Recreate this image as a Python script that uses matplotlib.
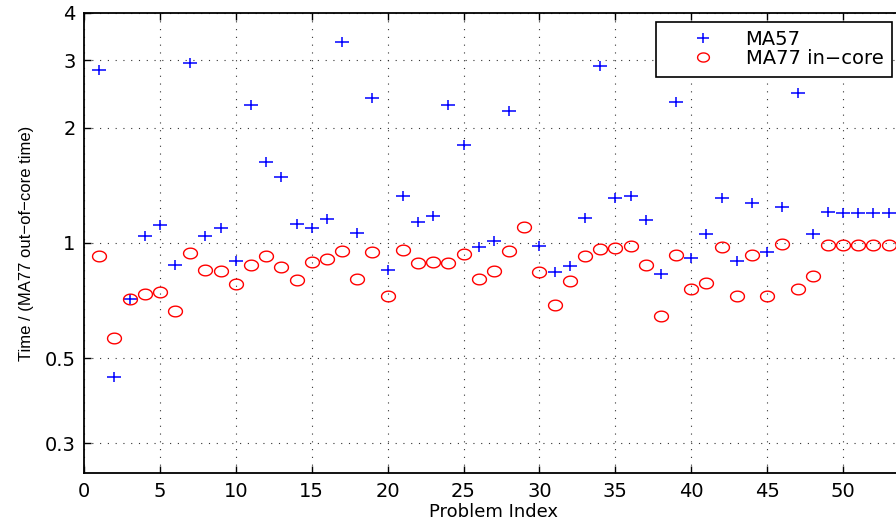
import matplotlib
matplotlib.use("Agg")
import matplotlib.pyplot as plt
from matplotlib.path import Path
import numpy as np

# valores (indice de problema 1..53)
problema = np.arange(1, 54)

ma57 = [2.84, 0.447, 0.715, 1.045, 1.117, 0.877, 2.95, 1.045, 1.096, 0.898,
        2.29, 1.63, 1.49, 1.12, 1.096, 1.158, 3.36, 1.064, 2.40, 0.851,
        1.33, 1.137, 1.179, 2.29, 1.80, 0.978, 1.014, 2.22, np.nan, 0.983,
        0.841, 0.872, 1.165, 2.90, 1.31, 1.33, 1.151, 0.831, 2.34, 0.915,
        1.057, 1.31, 0.898, 1.275, 0.949, 1.245, 2.47, 1.057, 1.208, 1.20,
        1.20, 1.20, 1.20]

ma77_incore = [0.922, 0.565, 0.715, 0.735, 0.746, 0.665, 0.941, 0.851, 0.843, 0.781,
               0.876, 0.926, 0.864, 0.800, 0.890, 0.908, 0.954, 0.806, 0.945, 0.725,
               0.956, 0.888, 0.890, 0.886, 0.936, 0.805, 0.843, 0.954, 1.10, 0.838,
               0.688, 0.795, 0.922, 0.966, 0.972, 0.980, 0.877, 0.646, 0.932, 0.756,
               0.784, 0.978, 0.726, 0.932, 0.729, 0.992, 0.760, 0.818, 0.99, 0.99,
               0.99, 0.99, 0.99]

yticks = [0.3, 0.5, 1, 2, 3, 4]
ytick_labels = ['0.3', '0.5', '1', '2', '3', '4']
xticks = list(range(0, 55, 5))

plt.rcParams['font.family'] = ['DejaVu Sans']

# marcadores algo estirados en horizontal, como en la figura original
t = np.linspace(0, 2 * np.pi, 60)
elipse = Path(np.column_stack([1.3 * np.cos(t), np.sin(t)]))
cruz = Path([(-1.2, 0), (1.2, 0), (0, -1), (0, 1)],
            [Path.MOVETO, Path.LINETO, Path.MOVETO, Path.LINETO])

fig = plt.figure(figsize=(8.96, 5.22), dpi=100)
ax = fig.add_axes([0.09375, 0.0933, 0.915, 0.8824])

ax.plot(problema, ma57, linestyle='none', marker=cruz, markersize=9.5,
        markerfacecolor='none', markeredgecolor='#0000ff', markeredgewidth=1.1,
        label='MA57')
ax.plot(problema, ma77_incore, linestyle='none', marker=elipse, markersize=10,
        markerfacecolor='none', markeredgecolor='#ff0000', markeredgewidth=1.0,
        label='MA77 in\u2212core')

ax.set_yscale('log')
ax.set_ylim(0.25, 4)
ax.set_xlim(0, 54)
ax.set_yticks(yticks)
ax.set_yticklabels(ytick_labels)
ax.minorticks_off()
ax.set_xticks(xticks)

ax.grid(True, which='major', color='0.2', linestyle=(0, (1, 6)), linewidth=0.8)
ax.tick_params(direction='in', top=True, right=True, labelsize=14, length=5,
               width=1, pad=6)
for s in ax.spines.values():
    s.set_linewidth(1.3)

ax.set_xlabel('Problem Index', fontsize=13, labelpad=2)
ax.set_ylabel('Time / (MA77 out\u2212of\u2212core time)', fontsize=12,
              family='Liberation Sans', labelpad=8)

leg = ax.legend(loc='upper right', bbox_to_anchor=(892 / 896, 1 - 21.5 / 522),
                bbox_transform=fig.transFigure, borderaxespad=0, fontsize=14,
                fancybox=False, edgecolor='black', framealpha=1,
                handlelength=3.9, handletextpad=0.25, borderpad=0.45,
                labelspacing=0.0, markerscale=0.85)
leg.get_frame().set_linewidth(1.2)

fig.savefig('out.png', dpi=100)
